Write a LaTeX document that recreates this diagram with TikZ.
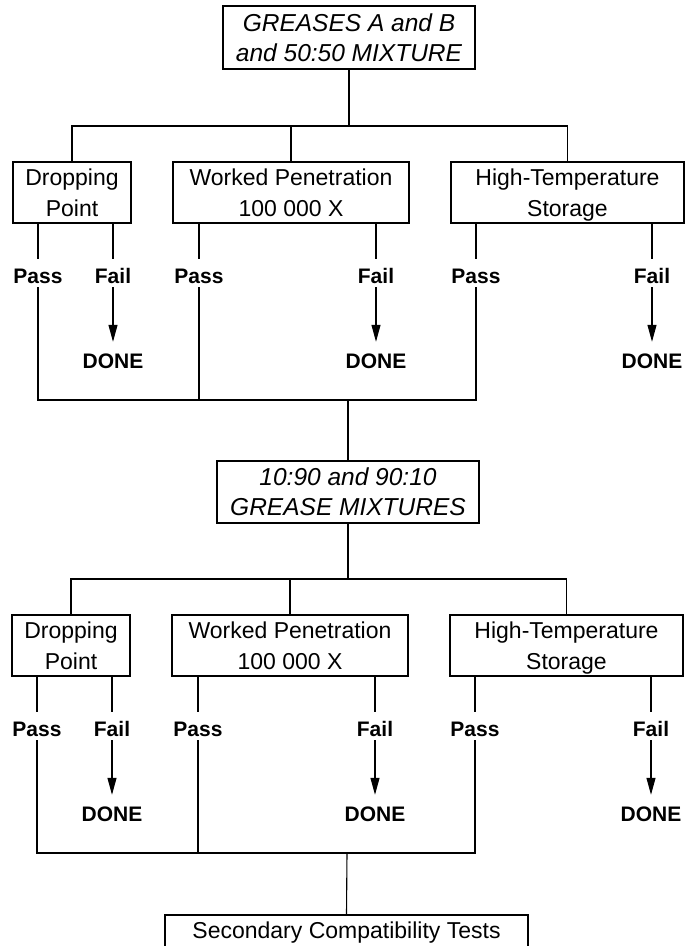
\documentclass[tikz,border=0pt]{standalone}
\usepackage{fontspec}
\setmainfont{Liberation Sans}
\usetikzlibrary{arrows.meta}
\newcommand\boxfnt{\fontsize{23}{31}\selectfont}
\newcommand\topfnt{\fontsize{24.5}{30}\selectfont\itshape}
\newcommand\lblfnt{\fontsize{21}{25}\selectfont\bfseries}
\tikzset{
  testbox/.style={draw, line width=1.3pt, inner sep=0pt, align=center, font=\boxfnt},
  headbox/.style={draw, line width=1.3pt, inner sep=0pt, align=center, font=\topfnt},
  lbl/.style={inner sep=0pt, text height=15pt, text depth=0pt, font=\lblfnt},
  conn/.style={line width=1.1pt},
  tip/.style={line width=1.1pt, -{Triangle[length=17pt,width=9pt]}}
}
\begin{document}
\begin{tikzpicture}[x=1pt,y=-1pt]
\path[use as bounding box] (0,0) rectangle (686,946);
\fill[white] (0,0) rectangle (686,946);
\clip (0,0) rectangle (686,946);

% ---------- top ----------
\node[headbox, minimum width=252pt, minimum height=63pt] (top) at (349,37.5) {GREASES A and B\\and 50:50 MIXTURE};
\coordinate (busA) at (349,126);

% row A boxes
\node[testbox, minimum width=118pt, minimum height=61pt] (dpA) at (72,192.5) {Dropping\\Point};
\node[testbox, minimum width=236pt, minimum height=61pt] (wpA) at (291,192.5) {Worked Penetration\\100 000 X};
\node[testbox, minimum width=233pt, minimum height=61pt] (htA) at (567.5,192.5) {High-Temperature\\\smash{Storage}};

\draw[conn] (top.south) -- (busA);
\draw[conn] (dpA.north) |- (busA) -| (htA.north);
\draw[conn] (wpA.north) -- (wpA.north |- busA);

% labels row A
\node[lbl] (paA) at (38,275.5) {Pass};
\node[lbl] (faA) at (113,275.5) {Fail};
\node[lbl] (pbA) at (199,275.5) {Pass};
\node[lbl] (fbA) at (376,275.5) {Fail};
\node[lbl] (pcA) at (476,275.5) {Pass};
\node[lbl] (fcA) at (652,275.5) {Fail};
\node[lbl] (daA) at (113,360.5) {DONE};
\node[lbl] (dbA) at (376,360.5) {DONE};
\node[lbl] (dcA) at (652,360.5) {DONE};

\foreach \p in {paA,faA,pbA,fbA,pcA,fcA}{
  \draw[conn, shorten >=9pt] (\p.north |- dpA.south) -- (\p.north);
}
\draw[tip, shorten <=4pt, shorten >=11pt] (faA.south) -- (daA.north);
\draw[tip, shorten <=4pt, shorten >=11pt] (fbA.south) -- (dbA.north);
\draw[tip, shorten <=4pt, shorten >=11pt] (fcA.south) -- (dcA.north);

\coordinate (colA) at (348,400);
\draw[conn, shorten <=4pt, shorten >=4pt] (paA.south) |- (colA) -| (pcA.south);
\draw[conn, shorten <=4pt] (pbA.south) -- (pbA.south |- colA);

% ---------- middle ----------
\node[headbox, minimum width=262pt, minimum height=62pt] (mid) at (348,492) {10:90 and 90:10\\GREASE MIXTURES};
\draw[conn] (colA) -- (mid.north);
\coordinate (busB) at (348,579);

% row B boxes
\node[testbox, minimum width=118pt, minimum height=61pt] (dpB) at (71,645.5) {Dropping\\Point};
\node[testbox, minimum width=236pt, minimum height=61pt] (wpB) at (290,645.5) {Worked Penetration\\100 000 X};
\node[testbox, minimum width=233pt, minimum height=61pt] (htB) at (566.5,645.5) {High-Temperature\\\smash{Storage}};

\draw[conn] (mid.south) -- (busB);
\draw[conn] (dpB.north) |- (busB) -| (htB.north);
\draw[conn] (wpB.north) -- (wpB.north |- busB);

% labels row B
\node[lbl] (paB) at (37,728.5) {Pass};
\node[lbl] (faB) at (112,728.5) {Fail};
\node[lbl] (pbB) at (198,728.5) {Pass};
\node[lbl] (fbB) at (375,728.5) {Fail};
\node[lbl] (pcB) at (475,728.5) {Pass};
\node[lbl] (fcB) at (651,728.5) {Fail};
\node[lbl] (daB) at (112,813.5) {DONE};
\node[lbl] (dbB) at (375,813.5) {DONE};
\node[lbl] (dcB) at (651,813.5) {DONE};

\foreach \p in {paB,faB,pbB,fbB,pcB,fcB}{
  \draw[conn, shorten >=9pt] (\p.north |- dpB.south) -- (\p.north);
}
\draw[tip, shorten <=4pt, shorten >=11pt] (faB.south) -- (daB.north);
\draw[tip, shorten <=4pt, shorten >=11pt] (fbB.south) -- (dbB.north);
\draw[tip, shorten <=4pt, shorten >=11pt] (fcB.south) -- (dcB.north);

\coordinate (colB) at (347,853);
\draw[conn, shorten <=4pt, shorten >=4pt] (paB.south) |- (colB) -| (pcB.south);
\draw[conn, shorten <=4pt] (pbB.south) -- (pbB.south |- colB);

% ---------- bottom ----------
\node[testbox, minimum width=363pt, minimum height=36pt] (sec) at (346.5,933) {Secondary Compatibility Tests};
\draw[conn] (colB) -- (sec.north);
\end{tikzpicture}
\end{document}
